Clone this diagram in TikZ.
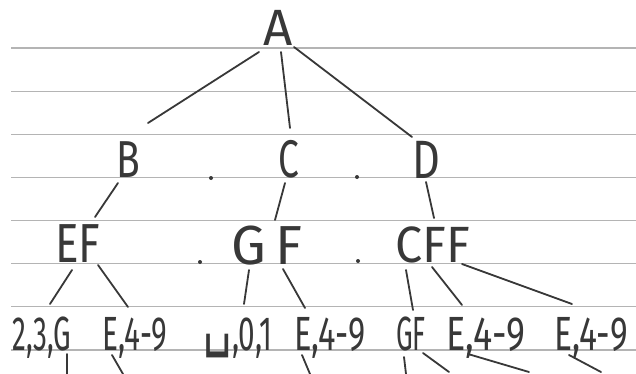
\documentclass[tikz,border=0pt]{standalone}
\usepackage{fontspec}
\setmainfont{Fira Sans}
\newfontfamily\dvs{DejaVu Sans}
\usepackage{graphicx}
\definecolor{inkc}{HTML}{383838}
\definecolor{rulec}{HTML}{B4B4B4}
\newcommand\hw[3]{\scalebox{#1}[1]{\fontsize{#2}{#2}\selectfont #3}}
\tikzset{
  ink/.style={draw=inkc, line width=1.8pt, line cap=round},
  lbl/.style={anchor=base, inner sep=0pt, text=inkc},
  rulel/.style={draw=rulec, line width=1.2pt},
  dotn/.style={circle, fill=inkc, inner sep=0pt, minimum size=4pt},
}
\begin{document}
\begin{tikzpicture}[x=1pt,y=-1pt]
\fill[white] (0,0) rectangle (636,374);
\useasboundingbox (0,0) rectangle (636,374);
% ruled paper lines
\foreach \i in {0,...,7}{
  \draw[rulel] (11,{48+43.14*\i}) -- (636,{48+43.14*\i});
}
% level 0
\node[lbl] (a) at (278,46) {\hw{1}{51}{A}};
% level 1
\node[lbl] (b) at (128,177) {\hw{0.75}{52}{B}};
\node[lbl] (c) at (289,177) {\hw{0.7}{53}{C}};
\node[lbl] (d) at (426,178) {\hw{0.8}{54}{D}};
\node[dotn] (p1) at (211,178) {};
\node[dotn] (p2) at (357,177) {};
% level 2
\node[lbl] (ef) at (78,262) {\hw{0.8}{55}{EF}};
\node[lbl] (gf) at (267,264) {\hw{1.0}{55}{G\,F}};
\node[lbl] (cff) at (433,262) {\hw{0.95}{51}{CFF}};
\node[dotn] (p3) at (200,262) {};
\node[dotn] (p4) at (358,261) {};
% level 3
\node[lbl] (l1) at (42,350) {\hw{0.58}{48}{2,3,G}};
\node[lbl] (l2) at (135,350) {\hw{0.62}{48}{E,4-9}};
\node[lbl] (l3) at (238,350) {\hw{0.62}{48}{\raisebox{9pt}{\scalebox{1.5}{\dvs ␣}},0,1}};
\node[lbl] (l4) at (330,350) {\hw{0.68}{48}{E,4-9}};
\node[lbl] (l5) at (411,350) {\hw{0.55}{48}{GF}};
\node[lbl] (l6) at (486,350) {\hw{0.75}{48}{E,4-9}};
\node[lbl] (l7) at (591,350) {\hw{0.7}{48}{E,4-9}};
% free ends at the bottom
\coordinate (e1) at (67,374);
\coordinate (e2) at (123,374);
\coordinate (e4) at (310,374);
\coordinate (e5a) at (406,374);
\coordinate (e5b) at (449,372);
\coordinate (e6) at (529,372);
\coordinate (e7) at (601,372);
% connectors
\draw[ink] ([shift={(-19,6)}]a.base) -- ([shift={(20,-54)}]b.base);
\draw[ink] ([shift={(3,6)}]a.base) -- ([shift={(1,-49)}]c.base);
\draw[ink] ([shift={(16,1)}]a.base) -- ([shift={(-14,-41)}]d.base);
\draw[ink] ([shift={(-10,6)}]b.base) -- ([shift={(17,-45)}]ef.base);
\draw[ink] ([shift={(-4,6)}]c.base) -- ([shift={(8,-44)}]gf.base);
\draw[ink] ([shift={(0,4)}]d.base) -- ([shift={(1,-44)}]cff.base);
\draw[ink] ([shift={(-6,8)}]ef.base) -- ([shift={(8,-46)}]l1.base);
\draw[ink] ([shift={(20,3)}]ef.base) -- ([shift={(-7,-43)}]l2.base);
\draw[ink] ([shift={(-18,6)}]gf.base) -- ([shift={(6,-46)}]l3.base);
\draw[ink] ([shift={(16,5)}]gf.base) -- ([shift={(-25,-42)}]l4.base);
\draw[ink] ([shift={(-27,8)}]cff.base) -- ([shift={(2,-40)}]l5.base);
\draw[ink] ([shift={(-1,5)}]cff.base) -- ([shift={(-24,-45)}]l6.base);
\draw[ink] ([shift={(29,2)}]cff.base) -- ([shift={(-19,-46)}]l7.base);
\draw[ink] ([shift={(25,4)}]l1.base) -- (e1);
\draw[ink] ([shift={(-23,5)}]l2.base) -- (e2);
\draw[ink] ([shift={(-28,5)}]l4.base) -- (e4);
\draw[ink] ([shift={(-7,7)}]l5.base) -- (e5a);
\draw[ink] ([shift={(12,3)}]l5.base) -- (e5b);
\draw[ink] ([shift={(-18,4)}]l6.base) -- (e6);
\draw[ink] ([shift={(-22,5)}]l7.base) -- (e7);
\end{tikzpicture}
\end{document}
